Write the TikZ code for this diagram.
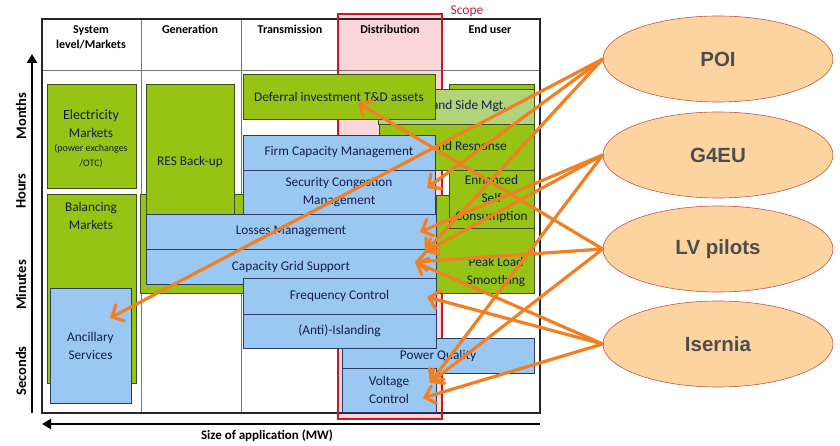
\documentclass[tikz,border=0pt]{standalone}
\usepackage{fontspec}
\setmainfont{Carlito}
\newfontfamily\arialfam{Liberation Sans}
\usetikzlibrary{shapes.geometric,arrows.meta}
\definecolor{gfill}{RGB}{150,195,20}
\definecolor{gline}{RGB}{60,80,20}
\definecolor{pgfill}{RGB}{178,212,120}
\definecolor{bfill}{RGB}{155,200,242}
\definecolor{bline}{RGB}{40,60,100}
\definecolor{ntext}{RGB}{20,30,75}
\definecolor{scopefill}{RGB}{250,214,216}
\definecolor{scopered}{RGB}{200,25,40}
\definecolor{efill}{RGB}{252,212,160}
\definecolor{eline}{RGB}{195,85,75}
\definecolor{etext}{RGB}{77,77,77}
\definecolor{orng}{RGB}{240,128,35}
\definecolor{gridc}{RGB}{120,120,120}
\newcommand\mybox[7]{\node[#1, minimum width={(#5)-(#3)}, minimum height={(#6)-(#4)}] (#2) at ({((#3)+(#5))/2},{((#4)+(#6))/2}) {#7};}
\tikzset{
  gbox/.style={draw=gline, fill=gfill, line width=0.6pt, inner sep=0pt, outer sep=0pt, align=center, text=ntext, font=\fontsize{13.3}{18}\selectfont},
  bbox/.style={gbox, draw=bline, fill=bfill},
  pbox/.style={gbox, fill=pgfill},
  btext/.style={inner sep=0pt, align=center, text=ntext, font=\fontsize{13.3}{18}\selectfont},
  hdr/.style={font=\bfseries\fontsize{12}{15}\selectfont, align=center, anchor=north, inner sep=0pt},
  axl/.style={font=\bfseries\fontsize{14.5}{16}\selectfont, rotate=90, inner sep=0pt},
  proj/.style={ellipse, draw=eline, fill=efill, line width=0.6pt, minimum width=230pt, minimum height=86pt, inner sep=0pt, font=\arialfam\bfseries\fontsize{20.5}{24}\selectfont, text=etext},
  link/.style={draw=orng, line width=3.2pt, line cap=round, -{Straight Barb[length=9pt,width=18pt,line cap=round]}},
  axisline/.style={draw=black, line width=2.4pt, -{Triangle[length=9pt,width=10pt]}},
  gridl/.style={draw=gridc, line width=0.6pt}
}
\begin{document}
\begin{tikzpicture}[x=1pt,y=-1pt]
\useasboundingbox[fill=white] (0,0) rectangle (840,446);
% scope fill
\fill[scopefill] (338,14) rectangle (442,419);
% table grid
\draw[gridl] (42,70) -- (540,70);
\foreach \cx in {141,241,338,441} {\draw[gridl] (\cx,19) -- (\cx,413);}
\draw[draw=black!85, line width=1.3pt] (42,19) rectangle (540,413);
% scope border
\draw[scopered, line width=2pt] (338,14) rectangle (442,419);
\node[text=scopered, font=\fontsize{13.5}{15}\selectfont, inner sep=0pt] (scope) at (467,11) {Scope};
% headers
\node[hdr] (h1) at (91,25) {System\\level/Markets};
\node[hdr] (h2) at (190,25) {Generation};
\node[hdr] (h3) at (290,25) {Transmission};
\node[hdr] (h4) at (390,25) {Distribution};
\node[hdr] (h5) at (490,25) {End user};
% axes
\coordinate (yb) at (32,413);
\coordinate (yt) at (32,54);
\draw[axisline] (yb) -- (yt);
\coordinate (xr) at (540,424);
\coordinate (xl) at (42,424);
\draw[axisline] (xr) -- (xl);
\node[axl] (lm) at (21,116) {Months};
\node[axl] (lh) at (21,191) {Hours};
\node[axl] (lmin) at (21,285) {Minutes};
\node[axl] (ls) at (21,371) {Seconds};
\node[font=\bfseries\fontsize{13}{15}\selectfont, inner sep=0pt] (xlab) at (267,436) {Size of application (MW)};
% boxes
\mybox{gbox}{genbg}{140}{194}{243}{293}{}
\mybox{gbox}{res}{146}{84}{234}{240}{RES Back-up}
\mybox{gbox}{elec}{47}{84}{136}{188}{}
\node[btext] (elect) at (91,124) {\fontsize{14}{18}\selectfont Electricity\\Markets};
\node[btext, font=\fontsize{10}{15}\selectfont] (elecs) at (91,156) {(power exchanges\\/OTC)};
\mybox{gbox}{bal}{47}{194}{136}{383}{}
\node[btext] (balt) at (91,216) {Balancing\\Markets};
\mybox{bbox}{anc}{50}{288}{131}{403}{Ancillary\\Services}
\mybox{gbox}{eubg}{449}{84}{534}{170}{}
\mybox{pbox}{dsm}{378}{89}{534}{124}{\hspace*{1pt}Demand Side Mgt.}
\mybox{gbox}{dr}{379}{124}{534}{170}{Demand Response}
\mybox{gbox}{peak}{436}{195}{534}{293}{}
\node[btext] (peakt) at (496,272) {Peak Load\\Smoothing};
\mybox{gbox}{esc}{449}{170}{534}{228}{\fontsize{13.3}{17}\selectfont Enhanced\\Self\\Consumption}
\mybox{gbox}{def}{243}{74}{435}{119}{Deferral investment T\&D assets}
\mybox{bbox}{firm}{243}{135}{435}{170}{Firm Capacity Management}
\mybox{bbox}{sec}{243}{170}{435}{214}{Security Congestion\\Management}
\mybox{bbox}{loss}{146}{214}{436}{249}{Losses Management}
\mybox{bbox}{cap}{146}{249}{436}{284}{Capacity Grid Support}
\mybox{bbox}{pq}{342}{338}{534}{373}{Power Quality}
\mybox{bbox}{freq}{243}{278}{436}{314}{Frequency Control}
\mybox{bbox}{isl}{243}{314}{436}{348}{(Anti)-Islanding}
\mybox{bbox}{volt}{342}{368}{436}{412}{Voltage\\Control}
% projects
\node[proj] (poi) at (718,59) {POI};
\node[proj] (g4eu) at (718,155) {G4EU};
\node[proj] (lv) at (718,249) {LV pilots};
\node[proj] (ise) at (718,344) {Isernia};
% arrow tips
\coordinate (tAnc) at (110,318);
\coordinate (tSec) at (427,188);
\coordinate (tCapA) at (425,252);
\coordinate (tLos) at (420,232);
\coordinate (tVolA) at (430,383);
\coordinate (tDef) at (358,103);
\coordinate (tCapB) at (415,262);
\coordinate (tFreq) at (427,297);
\coordinate (tVolB) at (423,398);
% links
\draw[link] (poi.west) -- (tAnc);
\draw[link] (poi.west) -- (tSec);
\draw[link] (poi.west) -- (tCapA);
\draw[link] (g4eu.west) -- (tLos);
\draw[link] (g4eu.west) -- (tCapA);
\draw[link] (g4eu.west) -- (tVolA);
\draw[link] (lv.west) -- (tDef);
\draw[link] (lv.west) -- (tCapB);
\draw[link] (lv.west) -- (tVolA);
\draw[link] (ise.west) -- (tCapB);
\draw[link] (ise.west) -- (tFreq);
\draw[link] (ise.west) -- (tVolB);
\end{tikzpicture}
\end{document}
